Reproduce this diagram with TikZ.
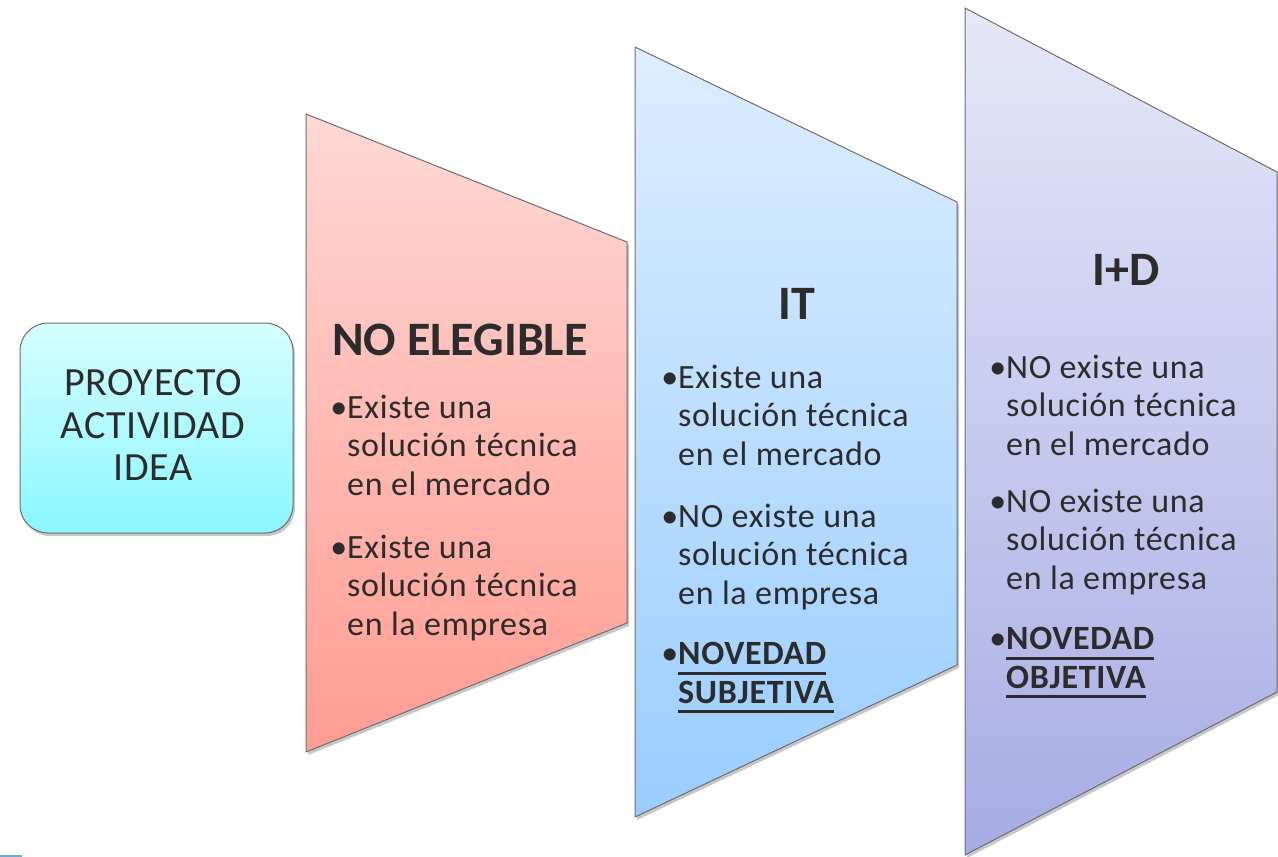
\documentclass[tikz,border=0pt]{standalone}
\usepackage{fontspec}
\setmainfont{Carlito}
\newfontfamily\bodyf[LetterSpace=2]{Carlito}
\definecolor{txtc}{HTML}{2C2C2C}
\definecolor{edgec}{HTML}{6E6E6E}
\definecolor{redT}{HTML}{FFD8D4}
\definecolor{redB}{HTML}{FF9C92}
\definecolor{bluT}{HTML}{DDEEFF}
\definecolor{bluB}{HTML}{99CDFF}
\definecolor{purT}{HTML}{E6E8F8}
\definecolor{purB}{HTML}{A6ACE4}
\definecolor{cyaT}{HTML}{D6FEFF}
\definecolor{cyaB}{HTML}{8AF7FF}
\definecolor{cornc}{HTML}{6AAED6}
\newcommand{\ulx}[1]{\setbox0\hbox{#1}\rlap{\rule[-10pt]{\wd0}{2.6pt}}\box0}
\begin{document}
\begin{tikzpicture}[x=1pt,y=-1pt,
  body/.style={anchor=base west, inner sep=0pt, align=left, text=txtc,
    font=\bodyf\fontsize{34}{38.5}\selectfont},
  bodyb/.style={body, font=\bodyf\fontsize{34}{38.5}\selectfont\bfseries},
  ttl/.style={anchor=base, inner sep=0pt, text=txtc,
    font=\fontsize{48}{50}\selectfont\bfseries},
  boxtxt/.style={anchor=base, inner sep=0pt, align=center, text=txtc,
    font=\bodyf\fontsize{40}{42.5}\selectfont},
  panel/.style={draw=edgec, line width=1pt,
    preaction={fill=black, opacity=.22, transform canvas={xshift=2pt, yshift=-3pt}}}]
\useasboundingbox (0,0) rectangle (1278,857);
% corner mark
\draw[cornc, line width=2pt] (0,856) -- (22,856);
% panels
\path[panel, top color=purT, bottom color=purB]
  (965,8) -- (1277,172) -- (1277,692) -- (965,855) -- cycle;
\path[panel, top color=bluT, bottom color=bluB]
  (635,47) -- (957,202) -- (957,665) -- (635,817) -- cycle;
\path[panel, top color=redT, bottom color=redB]
  (306,114) -- (627,242) -- (627,623) -- (306,752) -- cycle;
% start box
\path[panel, rounded corners=28pt, top color=cyaT, bottom color=cyaB]
  (20,323) rectangle (293,533);
\node[boxtxt] (b1) at (153,395) {PROYECTO};
\node[boxtxt] (b2) at (153,438) {ACTIVIDAD};
\node[boxtxt] (b3) at (153,480) {IDEA};
% NO ELEGIBLE (anchor base = baseline of last line)
\node[ttl, anchor=base west] (t1) at (332,355) {NO ELEGIBLE};
\node[body] (r1) at (347,495) {\llap{•}Existe una\\solución técnica\\en el mercado};
\node[body] (r2) at (347,635) {\llap{•}Existe una\\solución técnica\\en la empresa};
% IT
\node[ttl] (t2) at (797,319) {IT};
\node[body] (i1) at (678,465) {\llap{•}Existe una\\solución técnica\\en el mercado};
\node[body] (i2) at (678,604) {\llap{•}NO existe una\\solución técnica\\en la empresa};
\node[bodyb] (i3) at (678,703) {\llap{\mdseries•}\ulx{NOVEDAD}\\\ulx{SUBJETIVA}};
% I+D
\node[ttl] (t3) at (1126,285) {I+D};
\node[body] (d1) at (1006,455) {\llap{•}NO existe una\\solución técnica\\en el mercado};
\node[body] (d2) at (1006,589) {\llap{•}NO existe una\\solución técnica\\en la empresa};
\node[bodyb] (d3) at (1006,688) {\llap{\mdseries•}\ulx{NOVEDAD}\\\ulx{OBJETIVA}};
\end{tikzpicture}
\end{document}
